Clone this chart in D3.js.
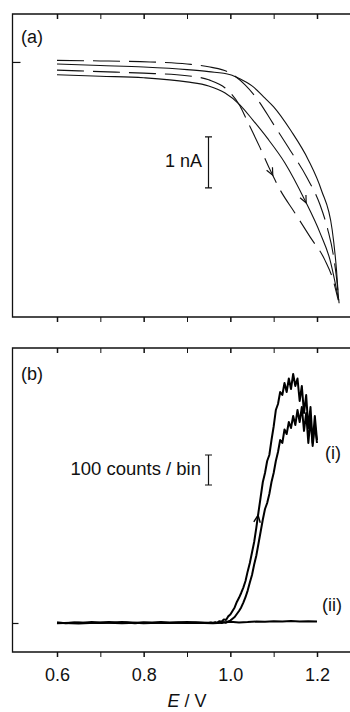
<!DOCTYPE html>
<html><head><meta charset="utf-8">
<script src="https://cdn.jsdelivr.net/npm/d3@7"></script>
<style>
body{margin:0;background:#fff}
svg{display:block}
text{font-family:"Liberation Sans",Arial,Helvetica,sans-serif;fill:#111}
</style>
</head><body>
<svg id="c" width="350" height="712"></svg>
<script>
// ---------- DATA ----------
// x ticks (E / V)
const xTicks = [0.6, 0.7, 0.8, 0.9, 1.0, 1.1, 1.2];
const xLabels = [0.6, 0.8, 1.0, 1.2];

// Panel (a): current (nA), four traces
const E_a1 = [0.60,0.70,0.80,0.90,0.95,1.00,1.022,1.05,1.08,1.10,1.14,1.18,1.21,1.235,1.245,1.25];
const I_a1 = [-0.04,-0.07,-0.10,-0.15,-0.19,-0.25,-0.33,-0.47,-0.71,-0.88,-1.35,-1.92,-2.51,-3.29,-4.08,-4.67];
const E_a2 = [0.60,0.70,0.80,0.90,0.95,0.988,1.022,1.052,1.085,1.126,1.172,1.207,1.230,1.249];
const I_a2 = [-0.25,-0.28,-0.31,-0.39,-0.47,-0.61,-0.84,-1.14,-1.49,-1.98,-2.71,-3.35,-3.88,-4.63];
const E_a3 = [0.60,0.70,0.815,0.90,0.953,1.00,1.034,1.064,1.098,1.138,1.177,1.207,1.225,1.237,1.2455,1.251];
const I_a3 = [0.03,0.02,0.0,-0.04,-0.10,-0.22,-0.45,-0.75,-1.20,-1.73,-2.27,-2.80,-3.29,-3.75,-4.27,-4.73];
const E_a4 = [0.60,0.70,0.80,0.90,0.95,0.988,1.022,1.038,1.068,1.092,1.115,1.149,1.184,1.218,1.237,1.249];
const I_a4 = [-0.16,-0.19,-0.22,-0.27,-0.35,-0.51,-0.86,-1.14,-1.67,-2.12,-2.51,-2.96,-3.43,-3.88,-4.27,-4.67];

// Panel (b): counts / bin
const E_b1 = [0.60,0.65,0.70,0.75,0.80,0.85,0.90,0.95,0.955,0.96,0.965,0.97,0.975,0.98,0.985,0.99,0.995,
  1.000,1.005,1.010,1.015,1.020,1.025,1.030,1.035,1.040,1.045,1.050,1.055,1.060,1.065,1.070,1.075,1.080,1.085,1.090,1.095,
  1.100,1.105,1.110,1.115,1.120,1.125,1.130,1.135,1.140,1.145,1.150,1.155,1.160,1.165,1.170,1.175,1.180,1.185,1.190,1.195,1.200];
const C_b1 = [1,-2,2,-1,2,0,3,0,2,0,3,1,6,4,12,10,22,
  28,40,52,70,84,100,118,140,172,200,235,270,318,370,420,470,500,540,560,610,
  655,710,730,770,760,800,770,815,780,830,790,815,740,790,700,760,650,720,600,690,610];
const E_b2 = [0.60,0.65,0.70,0.75,0.80,0.85,0.90,0.95,0.97,0.975,0.98,0.985,0.99,0.995,
  1.000,1.005,1.010,1.015,1.020,1.025,1.030,1.035,1.040,1.045,1.050,1.055,1.060,1.065,1.070,1.075,1.080,1.085,1.090,1.095,
  1.100,1.105,1.110,1.115,1.120,1.125,1.130,1.135,1.140,1.145,1.150,1.155,1.160,1.165,1.170,1.175,1.180,1.185,1.190,1.195,1.200];
const C_b2 = [-1,2,0,3,-1,2,0,1,0,2,0,3,1,5,
  8,14,20,30,40,52,68,86,108,135,160,195,225,265,305,345,380,400,430,470,
  500,540,570,610,600,645,630,670,650,690,660,710,670,720,640,700,600,680,590,660,600];
const E_b3 = [0.60,0.62,0.64,0.66,0.68,0.70,0.72,0.74,0.76,0.78,0.80,0.82,0.84,0.86,0.88,0.90,0.92,0.94,0.96,0.98,
  1.00,1.02,1.04,1.06,1.08,1.10,1.12,1.14,1.16,1.18,1.20];
const C_b3 = [2,-1,2,0,3,1,3,0,2,-1,2,1,3,0,2,1,2,0,-1,1,
  4,2,3,5,4,6,5,7,5,6,5];

// ---------- LAYOUT ----------
const svg = d3.select("#c");
const left = 12.5, right = 361;
const A = {top: 14, bottom: 317};
const B = {top: 348, bottom: 652};
const FS = 18;

const x = d3.scaleLinear().domain([0.6, 1.2]).range([57, 317]);
const yA = d3.scaleLinear().domain([-5.0, 0.94]).range([A.bottom, A.top]);
const yB = d3.scaleLinear().domain([-96.7, 916.7]).range([B.bottom, B.top]);

// frames
[A, B].forEach(p => {
  svg.append("path")
    .attr("d", `M${right},${p.top}H${left}V${p.bottom}H${right}`)
    .attr("fill", "none").attr("stroke", "#111").attr("stroke-width", 1.3);
});

const isMajor = d => xLabels.some(v => Math.abs(v - d) < 1e-9);
function xAxis(yPos, labels) {
  const ax = d3.axisBottom(x).tickValues(xTicks).tickSize(5)
    .tickFormat(d => labels && isMajor(d) ? d.toFixed(1) : "");
  const g = svg.append("g").attr("transform", `translate(0,${yPos})`).call(ax);
  g.select(".domain").remove();
  g.selectAll(".tick line").attr("stroke", "#111")
    .attr("stroke-width", d => isMajor(d) ? 1.5 : 1);
  g.selectAll(".tick text").attr("font-size", FS).attr("fill", "#111")
    .attr("y", 29).attr("dy", 0).style("font-family", '"Liberation Sans",Arial,sans-serif');
  return g;
}
xAxis(A.top, false);
xAxis(A.bottom, false);
xAxis(B.top, false);
xAxis(B.bottom, true);

function yTick(scale, v, len) {
  const g = svg.append("g").attr("transform", `translate(${left},0)`)
    .call(d3.axisRight(scale).tickValues([v]).tickSize(len).tickFormat(""));
  g.select(".domain").remove();
  g.selectAll(".tick line").attr("stroke", "#111").attr("stroke-width", 1.2);
}
yTick(yA, 0, 8);
yTick(yB, 0, 6);

// ---------- PANEL (a) ----------
const lineA = d3.line().x(d => x(d[0])).y(d => yA(d[1])).curve(d3.curveMonotoneX);
const zip = (a, b) => a.map((v, i) => [v, b[i]]);
const tracesA = [
  {E: E_a1, I: I_a1, dash: null},
  {E: E_a2, I: I_a2, dash: null},
  {E: E_a3, I: I_a3, dash: "27,9"},
  {E: E_a4, I: I_a4, dash: "27,9"}
];
tracesA.forEach(t => {
  svg.append("path").datum(zip(t.E, t.I)).attr("d", lineA)
    .attr("fill", "none").attr("stroke", "#111").attr("stroke-width", 1.1)
    .attr("stroke-dasharray", t.dash);
});

function interp(E, V, e) {
  return d3.scaleLinear().domain(E).range(V).clamp(true)(e);
}
function arrow(E, V, ys, e, len, col, w) {
  const d = 0.006;
  const p = [x(e), ys(interp(E, V, e))];
  const p0 = [x(e - d), ys(interp(E, V, e - d))];
  const p1 = [x(e + d), ys(interp(E, V, e + d))];
  const ang = Math.atan2(p1[1] - p0[1], p1[0] - p0[0]);
  const a = 0.42;
  const pts = [ang + Math.PI - a, ang + Math.PI + a].map(t => [p[0] + len * Math.cos(t), p[1] + len * Math.sin(t)]);
  svg.append("path")
    .attr("d", `M${pts[0][0]},${pts[0][1]}L${p[0]},${p[1]}L${pts[1][0]},${pts[1][1]}`)
    .attr("fill", "none").attr("stroke", col).attr("stroke-width", w);
}
arrow(E_a4, I_a4, yA, 1.098, 8, "#111", 1.2);
arrow(E_a2, I_a2, yA, 1.175, 8, "#111", 1.2);

// scale bars
function scaleBar(ys, xe, v0, v1) {
  const xx = Math.round(x(xe)) + 0.5;
  const ya = ys(v0), yb = ys(v1);
  svg.append("path").attr("d", `M${xx},${ya}V${yb}M${xx - 3.5},${ya}H${xx + 3.5}M${xx - 3.5},${yb}H${xx + 3.5}`)
    .attr("stroke", "#111").attr("stroke-width", 1.2).attr("fill", "none");
}
scaleBar(yA, 0.948, -1.47, -2.47);
svg.append("text").attr("x", 202).attr("y", 167).attr("text-anchor", "end").attr("font-size", FS).text("1 nA");
svg.append("text").attr("x", 21).attr("y", 43).attr("font-size", FS).text("(a)");

// ---------- PANEL (b) ----------
const lineB = d3.line().x(d => x(d[0])).y(d => yB(d[1]));
[[E_b3, C_b3], [E_b2, C_b2], [E_b1, C_b1]].forEach(([E, C]) => {
  svg.append("path").datum(zip(E, C)).attr("d", lineB)
    .attr("fill", "none").attr("stroke", "#000").attr("stroke-width", 2)
    .attr("stroke-linejoin", "round");
});
arrow(E_b1, C_b1, yB, 1.064, 8, "#000", 1.4);

scaleBar(yB, 0.948, 560, 460);
svg.append("text").attr("x", 201).attr("y", 475).attr("text-anchor", "end").attr("font-size", 18.5)
  .text("100 counts / bin");
svg.append("text").attr("x", 21).attr("y", 380).attr("font-size", FS).text("(b)");
svg.append("text").attr("x", 325).attr("y", 459).attr("font-size", FS).text("(i)");
svg.append("text").attr("x", 322).attr("y", 611).attr("font-size", FS).text("(ii)");

// x title
const t = svg.append("text").attr("x", x(0.9)).attr("y", 707).attr("text-anchor", "middle").attr("font-size", FS);
t.append("tspan").style("font-style", "italic").text("E");
t.append("tspan").text(" / V");
</script>
</body></html>
